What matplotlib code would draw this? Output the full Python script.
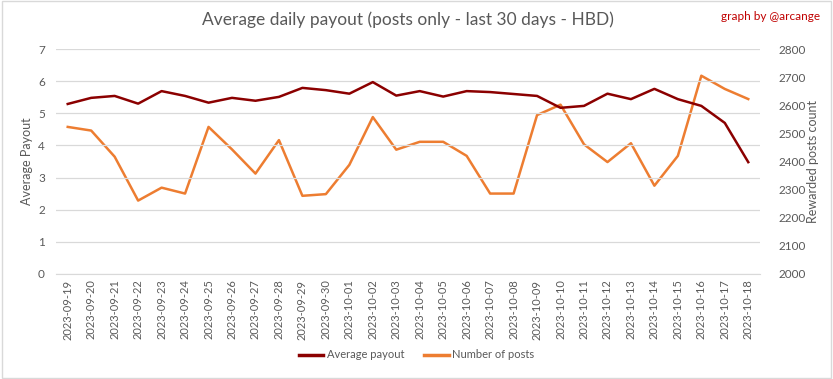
import matplotlib.pyplot as plt
import matplotlib.patches as mpatches

plt.rcParams['font.family'] = ['Lato', 'DejaVu Sans']

# data
dates = ['2023-09-19', '2023-09-20', '2023-09-21', '2023-09-22', '2023-09-23',
         '2023-09-24', '2023-09-25', '2023-09-26', '2023-09-27', '2023-09-28',
         '2023-09-29', '2023-09-30', '2023-10-01', '2023-10-02', '2023-10-03',
         '2023-10-04', '2023-10-05', '2023-10-06', '2023-10-07', '2023-10-08',
         '2023-10-09', '2023-10-10', '2023-10-11', '2023-10-12', '2023-10-13',
         '2023-10-14', '2023-10-15', '2023-10-16', '2023-10-17', '2023-10-18']
avg_payout = [5.29, 5.48, 5.54, 5.30, 5.69, 5.54, 5.33, 5.48, 5.39, 5.51,
              5.79, 5.72, 5.61, 5.97, 5.55, 5.69, 5.52, 5.69, 5.66, 5.60,
              5.54, 5.17, 5.23, 5.61, 5.44, 5.76, 5.44, 5.23, 4.70, 3.48]
num_posts = [2523, 2510, 2417, 2261, 2307, 2286, 2523, 2443, 2357, 2476,
             2278, 2284, 2388, 2558, 2442, 2470, 2470, 2420, 2286, 2286,
             2565, 2602, 2461, 2398, 2465, 2314, 2420, 2705, 2658, 2622]

red = '#8B0000'
orange = '#ED7D31'
grey = '#595959'

fig = plt.figure(figsize=(8.33, 3.79), dpi=100)
ax = fig.add_axes([56/833, 1-274/379, 704/833, 225/379])
ax2 = ax.twinx()

x = list(range(len(dates)))
ax.plot(x, avg_payout, color=red, lw=1.8, zorder=3)
ax2.plot(x, num_posts, color=orange, lw=1.8)
ax.set_zorder(ax2.get_zorder() + 1)
ax.patch.set_visible(False)

ax.set_xlim(-0.5, len(dates) - 0.5)
ax.set_ylim(0, 7)
ax2.set_ylim(2000, 2800)
ax.set_yticks(range(0, 8))
ax2.set_yticks(range(2000, 2801, 100))
ax.set_xticks(x)
ax.set_xticklabels(dates, rotation=90, fontsize=8, color=grey)
ax.tick_params(axis='y', labelsize=8.5, colors=grey, length=0, pad=8)
ax2.tick_params(axis='y', labelsize=8.5, colors=grey, length=0, pad=13)
ax.tick_params(axis='x', length=0, pad=4)

ax.grid(axis='y', color='#D9D9D9', lw=0.9)
for a in (ax, ax2):
    for s in a.spines.values():
        s.set_visible(False)
ax.spines['bottom'].set_visible(True)
ax.spines['bottom'].set_color('#D9D9D9')

ax.set_ylabel('Average Payout', fontsize=9, color=grey)
ax2.set_ylabel('Rewarded posts count', fontsize=9, color=grey)
ax.yaxis.set_label_coords((33 - 56) / 704, 0.5)
ax2.yaxis.set_label_coords((807 - 56) / 704, 0.5)

fig.text(0.49, 1-20/379, 'Average daily payout (posts only - last 30 days - HBD)',
         ha='center', va='center', fontsize=12.5, color=grey)
fig.text(0.985, 1-16/379, 'graph by @arcange', ha='right', va='center',
         fontsize=8.5, color='#C00000')

h1, = ax.plot([], [], color=red, lw=2.5, label='Average payout')
h2, = ax.plot([], [], color=orange, lw=2.5, label='Number of posts')
fig.legend(handles=[h1, h2], loc='center', bbox_to_anchor=(0.5, 1-355/379),
           ncol=2, frameon=False, fontsize=8, labelcolor=grey,
           handlelength=2.2, handletextpad=0.3, columnspacing=1.8)

fig.patches.append(mpatches.Rectangle((0.002, 0.003), 0.996, 0.994,
                                      transform=fig.transFigure, fill=False,
                                      edgecolor='#D9D9D9', lw=1))

fig.savefig('out.png', dpi=100)
